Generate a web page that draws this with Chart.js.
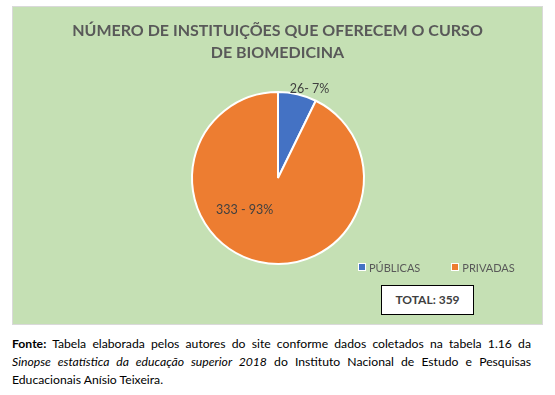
<!DOCTYPE html>
<html>
<head>
<meta charset="utf-8">
<script src="https://cdn.jsdelivr.net/npm/chart.js@4"></script>
<style>
  html, body { margin: 0; padding: 0; background: #fff; }
  body { width: 555px; height: 395px; position: relative; font-family: Lato, 'Open Sans', sans-serif; }
  #box { position: absolute; left: 12px; top: 6px; width: 529px; height: 317px; background: #c5e0b4; border: 1px solid #d9d9d9; }
  #title { position: absolute; left: 0; top: 12px; width: 529px; text-align: center; font-weight: bold; font-size: 16px; line-height: 22px; color: #595959; }
  #pie { position: absolute; left: 0; top: 0; }
  #legend { position: absolute; left: 345px; top: 254px; width: 180px; white-space: nowrap; font-size: 11px; color: #595959; }
  #legend span { display: inline-block; margin-right: 31px; }
  #legend i { display: inline-block; width: 6px; height: 6px; margin-right: 3px; border: 1px solid #fff; vertical-align: 1px; }
  #total { position: absolute; left: 368px; top: 278px; width: 91px; height: 28px; background: #fff; border: 1px solid #000; text-align: center; line-height: 28px; font-weight: bold; font-size: 12px; color: #404040; }
  #fonte { position: absolute; left: 12px; top: 335px; width: 519px; font-size: 12.2px; line-height: 18px; text-align: justify; color: #000; }
</style>
</head>
<body>
<div id="box">
  <canvas id="pie" width="529" height="317"></canvas>
  <div id="title">NÚMERO DE INSTITUIÇÕES QUE OFERECEM O CURSO<br>DE BIOMEDICINA</div>
  <div id="legend"></div>
  <div id="total"></div>
</div>
<div id="fonte"><b>Fonte:</b> Tabela elaborada pelos autores do site conforme dados coletados na tabela 1.16 da <i>Sinopse estatística da educação superior 2018</i> do Instituto Nacional de Estudo e Pesquisas Educacionais Anísio Teixeira.</div>
<script>
var categories = ['PÚBLICAS', 'PRIVADAS'];
var values = [26, 333];
var valueLabels = ['26- 7%', '333 - 93%'];
var colors = ['#4472c4', '#ed7d31'];

var total = values.reduce(function(s, v) { return s + v; }, 0);
document.getElementById('total').textContent = 'TOTAL: ' + total;

document.getElementById('legend').innerHTML = categories.map(function(c, i) {
  return '<span><i style="background:' + colors[i] + '"></i>' + c + '</span>';
}).join('');

// slice labels: blue one just outside the arc, orange one inside
var sliceLabels = {
  id: 'sliceLabels',
  afterDatasetsDraw: function(chart) {
    var ctx = chart.ctx;
    var arcs = chart.getDatasetMeta(0).data;
    ctx.save();
    ctx.font = '12.5px Lato, sans-serif';
    ctx.fillStyle = '#404040';
    ctx.textAlign = 'center';
    ctx.textBaseline = 'middle';
    var place = [{ r: 1.1, a: 0.34 }, { r: 0.54, a: 3.94 }];
    arcs.forEach(function(arc, i) {
      var p = place[i];
      var x = arc.x + Math.sin(p.a) * arc.outerRadius * p.r;
      var y = arc.y - Math.cos(p.a) * arc.outerRadius * p.r;
      ctx.fillText(valueLabels[i], x, y);
    });
    ctx.restore();
  }
};

new Chart(document.getElementById('pie'), {
  type: 'pie',
  data: {
    labels: categories,
    datasets: [{ data: values, backgroundColor: colors, borderColor: '#fff', borderWidth: 2 }]
  },
  options: {
    responsive: false, animation: false,
    layout: { padding: { left: 178, top: 84, right: 177, bottom: 59 } },
    plugins: { legend: { display: false }, tooltip: { enabled: false } }
  },
  plugins: [sliceLabels]
});
</script>
</body>
</html>
